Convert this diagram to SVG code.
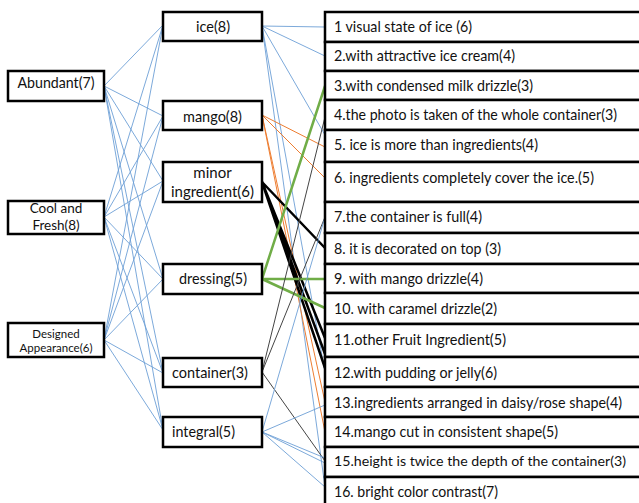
<svg xmlns="http://www.w3.org/2000/svg" width="639" height="503" viewBox="0 0 639 503">
<style>
.box{fill:#fff;stroke:#000;stroke-width:2.5}
.t{font-family:Lato,"Liberation Sans",sans-serif;font-size:15px;fill:#111}
.m{font-family:Lato,"Liberation Sans",sans-serif;font-size:14px;fill:#111}
.c{font-family:Lato,"Liberation Sans",sans-serif;font-size:13.5px;fill:#111}
.s{font-family:Lato,"Liberation Sans",sans-serif;font-size:11.5px;fill:#111}
.b{stroke:#6d9fd6;stroke-width:0.9;fill:none}
.o{stroke:#ed7d31;stroke-width:1;fill:none}
.g{stroke:#70ad47;stroke-width:2.5;fill:none}
.k{stroke:#000;stroke-width:2.5;fill:none}
.d{stroke:#444;stroke-width:1;fill:none}
</style>
<rect width="639" height="503" fill="#fff"/>
<g id="connectors">
<path class="b" d="M104 86L163 25M104 86L163 116M104 86L163 181M104 86L163 279M104 86L163 373M104 86L163 430"/>
<path class="b" d="M104 217L163 25M104 217L163 116M104 217L163 181M104 217L163 279M104 217L163 373M104 217L163 430"/>
<path class="b" d="M104 340L163 25M104 340L163 116M104 340L163 181M104 340L163 279M104 340L163 373M104 340L163 430"/>
<path class="b" d="M262 26L325 27M262 26L325 56M262 26L325 135M262 26L325 372M262 26L325 487"/>
<path class="o" d="M262 115L325 147M262 115L325 178M262 115L325 402M262 115L325 432"/>
<path class="k" d="M262 182L325 248M262 182L325 338M262 182L325 354M262 182L325 368"/>
<path class="g" d="M262 279L325 86M262 279L325 279M262 279L325 308"/>
<path class="d" d="M262 372L325 117M262 372L325 217M262 372L325 461"/>
<path class="b" d="M262 432L325 217M262 432L325 405M262 432L325 458M262 432L325 463M262 432L325 487"/>
</g>
<g id="abundant"><rect class="box" x="8" y="71" width="96" height="30"/><text class="t" x="56" y="88" text-anchor="middle" textLength="77" lengthAdjust="spacingAndGlyphs">Abundant(7)</text></g>
<g id="cool"><rect class="box" x="8" y="201" width="96" height="33"/><text class="c" text-anchor="middle"><tspan x="56" y="213">Cool and</tspan><tspan x="56" y="229.5">Fresh(8)</tspan></text></g>
<g id="designed"><rect class="box" x="8" y="323" width="96" height="34"/><text class="s" text-anchor="middle"><tspan x="56" y="338">Designed</tspan><tspan x="56" y="352">Appearance(6)</tspan></text></g>
<g id="ice"><rect class="box" x="163" y="12" width="99" height="29"/><text class="t" x="213" y="32" text-anchor="middle" textLength="34" lengthAdjust="spacingAndGlyphs">ice(8)</text></g>
<g id="mango"><rect class="box" x="163" y="101" width="99" height="29"/><text class="t" x="212.5" y="122" text-anchor="middle" textLength="59" lengthAdjust="spacingAndGlyphs">mango(8)</text></g>
<g id="minor"><rect class="box" x="163" y="162" width="99" height="40"/><text class="t" text-anchor="middle"><tspan x="212.5" y="178">minor</tspan><tspan x="212.5" y="197">ingredient(6)</tspan></text></g>
<g id="dressing"><rect class="box" x="163" y="264" width="99" height="30"/><text class="t" x="213" y="284" text-anchor="middle" textLength="68" lengthAdjust="spacingAndGlyphs">dressing(5)</text></g>
<g id="container"><rect class="box" x="163" y="358" width="99" height="29"/><text class="t" x="172" y="378" textLength="76" lengthAdjust="spacingAndGlyphs">container(3)</text></g>
<g id="integral"><rect class="box" x="163" y="417" width="99" height="30"/><text class="t" x="172" y="437" textLength="63" lengthAdjust="spacingAndGlyphs">integral(5)</text></g>
<g id="r1"><rect class="box" x="325" y="12" width="330" height="30"/><text class="t" x="334" y="32" textLength="138" lengthAdjust="spacingAndGlyphs">1 visual state of ice (6)</text></g>
<g id="r2"><rect class="box" x="325" y="42" width="330" height="29"/><text class="t" x="334" y="61" textLength="181" lengthAdjust="spacingAndGlyphs">2.with attractive ice cream(4)</text></g>
<g id="r3"><rect class="box" x="325" y="71" width="330" height="29"/><text class="t" x="334" y="91" textLength="199" lengthAdjust="spacingAndGlyphs">3.with condensed milk drizzle(3)</text></g>
<g id="r4"><rect class="box" x="325" y="100" width="330" height="30"/><text class="t" x="334" y="120" textLength="283" lengthAdjust="spacingAndGlyphs">4.the photo is taken of the whole container(3)</text></g>
<g id="r5"><rect class="box" x="325" y="130" width="330" height="32"/><text class="t" x="334" y="150" textLength="204" lengthAdjust="spacingAndGlyphs">5. ice is more than ingredients(4)</text></g>
<g id="r6"><rect class="box" x="325" y="162" width="330" height="40"/><text class="t" x="334" y="183" textLength="260" lengthAdjust="spacingAndGlyphs">6. ingredients completely cover the ice.(5)</text></g>
<g id="r7"><rect class="box" x="325" y="202" width="330" height="31"/><text class="t" x="334" y="222" textLength="148" lengthAdjust="spacingAndGlyphs">7.the container is full(4)</text></g>
<g id="r8"><rect class="box" x="325" y="233" width="330" height="31"/><text class="t" x="334" y="254" textLength="167" lengthAdjust="spacingAndGlyphs">8. it is decorated on top (3)</text></g>
<g id="r9"><rect class="box" x="325" y="264" width="330" height="29"/><text class="t" x="334" y="284" textLength="149" lengthAdjust="spacingAndGlyphs">9. with mango drizzle(4)</text></g>
<g id="r10"><rect class="box" x="325" y="293" width="330" height="31"/><text class="t" x="334" y="314" textLength="163" lengthAdjust="spacingAndGlyphs">10. with caramel drizzle(2)</text></g>
<g id="r11"><rect class="box" x="325" y="324" width="330" height="33"/><text class="t" x="334" y="345" textLength="172" lengthAdjust="spacingAndGlyphs">11.other Fruit Ingredient(5)</text></g>
<g id="r12"><rect class="box" x="325" y="357" width="330" height="30"/><text class="t" x="334" y="378" textLength="163" lengthAdjust="spacingAndGlyphs">12.with pudding or jelly(6)</text></g>
<g id="r13"><rect class="box" x="325" y="387" width="330" height="30"/><text class="t" x="334" y="408" textLength="288" lengthAdjust="spacingAndGlyphs">13.ingredients arranged in daisy/rose shape(4)</text></g>
<g id="r14"><rect class="box" x="325" y="417" width="330" height="30"/><text class="t" x="334" y="437" textLength="224" lengthAdjust="spacingAndGlyphs">14.mango cut in consistent shape(5)</text></g>
<g id="r15"><rect class="box" x="325" y="447" width="330" height="30"/><text class="m" x="334" y="466" textLength="292" lengthAdjust="spacingAndGlyphs">15.height is twice the depth of the container(3)</text></g>
<g id="r16"><rect class="box" x="325" y="477" width="330" height="40"/><text class="t" x="334" y="497" textLength="164" lengthAdjust="spacingAndGlyphs">16. bright color contrast(7)</text></g>
</svg>
